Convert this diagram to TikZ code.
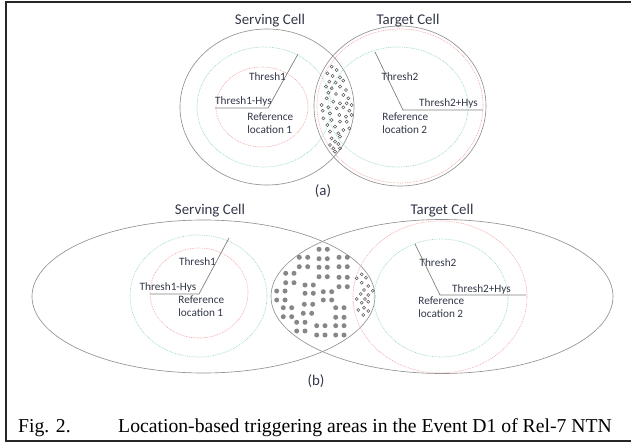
\documentclass[tikz,border=0pt]{standalone}
\usepackage{fontspec}
\setmainfont{Liberation Serif}
\newfontfamily\cellfont{Carlito}
\definecolor{cellgray}{RGB}{145, 145, 145}
\definecolor{hysred}{RGB}{243, 165, 165}
\definecolor{thrgreen}{RGB}{150, 215, 195}
\definecolor{dotgray}{RGB}{135, 135, 135}
\definecolor{labelink}{RGB}{50, 55, 72}
\usetikzlibrary{calc}
\tikzset{
    cellline/.style={draw=cellgray, line width=.55pt},
    redring/.style={draw=hysred, dash pattern=on .7pt off .8pt, line width=.55pt},
    greenring/.style={draw=thrgreen, dash pattern=on .7pt off .8pt, line width=.55pt},
    radiusline/.style={draw=black!50, line width=.6pt},
    cellname/.style={font=\cellfont\fontsize{12.7}{14}\selectfont, text=labelink},
    threshlabel/.style={font=\cellfont\fontsize{9.6}{11.6}\selectfont,
        text=labelink, inner sep=1pt},
    reflabel/.style={threshlabel, align=left, anchor=north west},
    opendot/.style={draw=black!65, line width=.45pt},
    fulldot/.style={fill=dotgray},
}

\begin{document}
\begin{tikzpicture}[x=0.03cm, y=-0.03cm]
    \useasboundingbox (0, 0) rectangle (631, 444);
    \draw[line width=1.5pt, black!85] (6, 2) rectangle (636, 441);

    \draw[cellline] (267, 107) ellipse [x radius=87, y radius=78];
    \draw[greenring] (264, 107) ellipse [x radius=67, y radius=60];
    \draw[redring] (262, 107) ellipse [x radius=46, y radius=40];
    \draw[cellline] (400, 106) ellipse [x radius=86, y radius=80];
    \draw[redring] (400, 106) ellipse [x radius=83, y radius=77];
    \draw[greenring] (398, 107) ellipse [x radius=70, y radius=60];
    \foreach \x/\y in {331.7/66.7, 336.7/70, 327.3/73.3, 332.7/76, 340/77.3,
        329.3/81.7, 335.7/82.7, 343.3/80.7, 326/86.7, 331.7/88.3, 340/86.7,
        346/90, 328.3/92.7, 336/94, 343.3/95, 348.3/98.3, 326.7/98.3,
        333.3/101.7, 340/103.3, 346.7/103.3, 351.7/105, 321.7/105, 328.3/107.3,
        336.7/108.3, 343.3/107.3, 349.3/110.7, 322.7/110.7, 330/113.3,
        339.3/115, 346/116.7, 351.7/115, 323.3/118.3, 331.7/120, 340/121.7,
        346.7/121.7, 327.3/125, 335/126.7, 343.3/130, 349.3/128.3, 330/131.7,
        338.3/133.3, 331.7/138.3, 340/136.7, 335/141.7, 330/145, 338.3/144,
        333.3/148.3, 340/148.3, 335/151.7}{
        \draw[opendot] (\x, \y) circle [radius=1.6];
    }

    \coordinate (refA) at (268, 108);
    \coordinate (thrA) at (298, 54);
    \coordinate (hysA) at (215, 108);
    \draw[radiusline] (hysA) -- (refA) -- (thrA);
    \coordinate (refB) at (403, 110);
    \coordinate (thrB) at (375, 52);
    \coordinate (hysB) at (483, 110);
    \draw[radiusline] (thrB) -- (refB) -- (hysB);

    \node[cellname] (servA) at (270, 21) {Serving Cell};
    \node[cellname] (targA) at (408, 21) {Target Cell};
    \node[threshlabel] (thrAlbl) at (267.5, 77) {Thresh1};
    \node[threshlabel] (hysAlbl) at (243.5, 102) {Thresh1-Hys};
    \node[reflabel] (locA) at (246, 111) {Reference\\location 1};
    \node[threshlabel] (thrBlbl) at (400, 77) {Thresh2};
    \node[threshlabel] (hysBlbl) at (448.5, 104) {Thresh2+Hys};
    \node[reflabel] (locB) at (381, 111) {Reference\\location 2};
    \node[cellname] (capA) at (323, 191) {(a)};

    \draw[cellline] (203.5, 296.5) ellipse [x radius=171.5, y radius=76.5];
    \draw[greenring] (198.5, 296) ellipse [x radius=68.5, y radius=61];
    \draw[redring] (199, 293) ellipse [x radius=49, y radius=45];
    \draw[cellline] (442, 296.5) ellipse [x radius=171, y radius=77];
    \draw[redring] (440, 297) ellipse [x radius=87, y radius=76];
    \draw[greenring] (441, 298) ellipse [x radius=67, y radius=59];
    \foreach \x/\y in {319/249.3, 327.3/249.3,
        299.3/257.3, 307.7/257.3, 319/258.7, 327.3/258.7, 339/257.3, 347.3/257.3,
        299.3/266.7, 307.7/266.7, 319/267.3, 327.3/267.3, 339/266.7, 347.3/266.7,
        285.7/273.3, 294/273.3, 319/276.7, 327.3/276.7, 339/277.3, 347.3/277.3,
        285.7/282.7, 294/282.7, 305/285, 313.3/285, 339/286.7, 347.3/286.7,
        276.7/291, 285/291, 305/293.3, 313.3/293.3, 323.3/291.7, 331.7/291.7,
        276.7/300, 285/300, 304.3/304.3, 312.7/304.3, 323.3/300, 331.7/300,
        283.3/307.7, 291.7/307.7, 335.7/307.7, 344/307.7,
        283.3/316.7, 291.7/316.7, 303.3/313.3, 311.7/313.3, 335.7/317.3, 344/317.3,
        296.7/322.3, 305/322.3, 316.7/325.7, 325/325.7, 335.7/325.7, 344/325.7,
        296.7/331, 305/331, 316.7/335, 325/335, 335.7/335, 344/335}{
        \fill[fulldot] (\x, \y) circle [radius=2.5];
    }
    \foreach \x/\y in {361.7/274.3, 356.7/278.3, 366/277.7, 361.7/282.7,
        368.3/286, 364/290, 372.7/290.7, 360.7/294, 368.3/295, 356.7/299,
        365/299, 361.7/302.7, 368.3/301.7, 358.3/310, 364/307.7, 368.3/311,
        363.3/315}{
        \draw[opendot] (\x, \y) circle [radius=1.5];
    }

    \coordinate (refC) at (199, 294);
    \coordinate (thrC) at (229, 238);
    \coordinate (hysC) at (150, 294);
    \draw[radiusline] (hysC) -- (refC) -- (thrC);
    \coordinate (refD) at (440, 295);
    \coordinate (thrD) at (415, 244);
    \coordinate (hysD) at (526, 295);
    \draw[radiusline] (thrD) -- (refD) -- (hysD);

    \node[cellname] (servB) at (210, 211) {Serving Cell};
    \node[cellname] (targB) at (442, 211) {Target Cell};
    \node[threshlabel] (thrClbl) at (197.5, 262) {Thresh1};
    \node[threshlabel] (hysClbl) at (168, 287) {Thresh1-Hys};
    \node[reflabel] (locC) at (177, 294) {Reference\\location 1};
    \node[threshlabel] (thrDlbl) at (438, 263) {Thresh2};
    \node[threshlabel] (hysDlbl) at (481.5, 289) {Thresh2+Hys};
    \node[reflabel] (locD) at (417, 295) {Reference\\location 2};
    \node[cellname] (capB) at (316, 381) {(b)};

    \node[anchor=base west, inner sep=0pt, font=\fontsize{16.8}{20}\selectfont]
        (fignum) at (18, 432) {Fig. 2.};
    \node[anchor=base west, inner sep=0pt, font=\fontsize{16.8}{20}\selectfont]
        (figtext) at (118, 432)
        {Location-based triggering areas in the Event D1 of Rel-7 NTN};
\end{tikzpicture}
\end{document}
